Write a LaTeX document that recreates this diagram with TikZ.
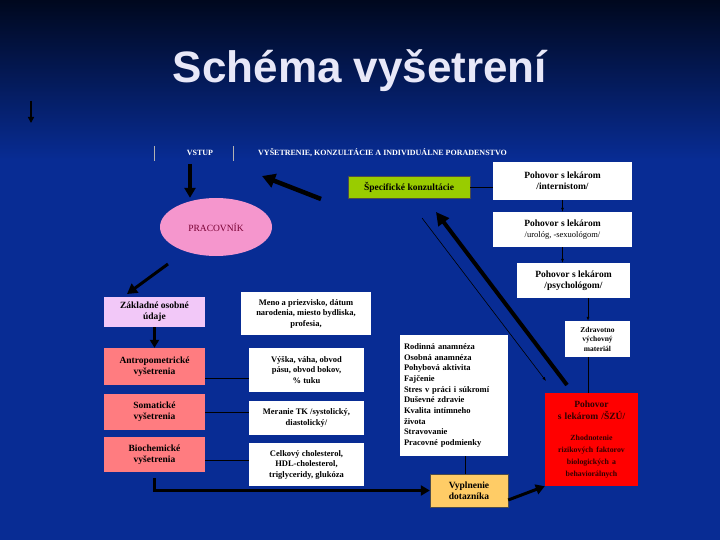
\documentclass[tikz,border=0pt]{standalone}
\usepackage{fontspec}
\setmainfont{Liberation Serif}
\newfontfamily\titlefont{Liberation Sans}
\usetikzlibrary{arrows.meta,shapes.geometric}
\definecolor{bgtop}{RGB}{0,8,30}
\definecolor{bgblue}{RGB}{8,44,148}
\definecolor{titlecol}{RGB}{232,232,248}
\definecolor{specgreen}{RGB}{153,204,0}
\definecolor{ellpink}{RGB}{245,150,205}
\definecolor{lavender}{RGB}{242,200,248}
\definecolor{salmon}{RGB}{255,124,128}
\definecolor{orangey}{RGB}{255,204,102}
\definecolor{darkred}{RGB}{120,0,50}
\definecolor{redtext}{RGB}{50,0,0}
\tikzset{
  box/.style={inner sep=1pt, align=center, text=black, font=\fontsize{9.5}{11}\selectfont\bfseries},
  wbox/.style={box, fill=white},
  thinline/.style={draw=black, line width=0.6pt},
  thinarrow/.style={thinline, -{Latex[length=4pt,width=3pt]}},
  fatarrow/.style={draw=black, line width=3.5pt, -{Triangle[length=10pt,width=11pt]}},
  hdr/.style={text=white, font=\fontsize{8}{9}\selectfont\bfseries, inner sep=0pt}
}
\begin{document}
\begin{tikzpicture}[x=1pt,y=-1pt]
\useasboundingbox (0,0) rectangle (720,540);
% background
\fill[top color=bgtop, bottom color=bgblue] (0,0) rectangle (720,160);
\fill[bgblue] (0,159.5) rectangle (720,540);
% title
\node[anchor=base, text=titlecol, font=\titlefont\fontsize{44}{48}\selectfont\bfseries] (title) at (360,83) {Schéma vyšetrení};
% small left arrow
\coordinate (la1) at (31,101);
\coordinate (la2) at (31,123);
\draw[line width=1.6pt, -{Triangle[length=6pt,width=6pt]}] (la1) -- (la2);
% header
\node[hdr] (vstup) at (200,153) {VSTUP};
\node[hdr, anchor=west] (hdrtxt) at (258,153) {VYŠETRENIE, KONZULTÁCIE A INDIVIDUÁLNE PORADENSTVO};
\coordinate (b1t) at (154,146); \coordinate (b1b) at (154,161);
\coordinate (b2t) at (233,146); \coordinate (b2b) at (233,161);
\draw[gray!60, line width=0.6pt] (b1t) -- (b1b);
\draw[gray!60, line width=0.6pt] (b2t) -- (b2b);
% ellipse
\node[ellipse, fill=ellpink, minimum width=112pt, minimum height=58pt, inner sep=0pt,
      text=darkred, font=\fontsize{9.5}{11}\selectfont] (ell) at (216,227) {PRACOVNÍK};
\coordinate (va) at (190,164);
\draw[fatarrow] (va) -- (va |- ell.north);
% right column
\node[wbox, minimum width=139pt, minimum height=38pt] (int) at (562.5,181) {Pohovor s lekárom\\ /internistom/};
\node[wbox, minimum width=139pt, minimum height=35pt] (uro) at (562.5,229.5) {Pohovor s lekárom\\ \fontsize{8.5}{10}\selectfont\mdseries /urológ, -sexuológom/};
\node[wbox, minimum width=113pt, minimum height=35pt] (psy) at (573.5,280.5) {Pohovor s lekárom\\ /psychológom/};
\node[wbox, minimum width=65pt, minimum height=36pt, font=\fontsize{7.5}{9.5}\selectfont\bfseries] (zdr) at (597.5,339) {Zdravotno\\ výchovný\\ materiál};
\node[box, fill=specgreen, draw=black!70, line width=0.4pt, minimum width=122pt, minimum height=22pt] (spec) at (409,187) {Špecifické konzultácie};
\node[box, fill=red, minimum width=93pt, minimum height=93pt, text width=88pt, text=redtext] (red) at (591.5,439.5)
  {{\fontsize{9.5}{12}\selectfont Pohovor\\ s lekárom /ŠZÚ/\par}\vspace{9pt}{\fontsize{7.8}{12}\selectfont\bfseries Zhodnotenie\\ rizikových faktorov\\ biologických a\\ behaviorálnych\par}};
\draw[thinline] (spec.east) -- (spec.east -| int.west);
\draw[thinarrow] (int.south) -- (uro.north);
\draw[thinarrow] (uro.south) -- (uro.south |- psy.north);
\draw[thinarrow] (psy.south -| 588,0) -- (zdr.north -| 588,0);
\draw[thinline] (zdr.south -| 588,0) -- (red.north -| 588,0);
% left column
\node[box, fill=lavender, minimum width=101pt, minimum height=30pt] (zak) at (154.5,312) {Základné osobné\\ údaje};
\node[box, fill=salmon, minimum width=101pt, minimum height=37pt] (ant) at (154.5,366.5) {Antropometrické\\ vyšetrenia};
\node[box, fill=salmon, minimum width=101pt, minimum height=36pt] (som) at (154.5,412) {Somatické\\ vyšetrenia};
\node[box, fill=salmon, minimum width=101pt, minimum height=35pt] (bio) at (154.5,454.5) {Biochemické\\ vyšetrenia};
\draw[fatarrow, line width=3pt, -{Triangle[length=8pt,width=9pt]}] (zak.south) -- (ant.north);
% middle white boxes
\tikzset{mbox/.style={wbox, font=\fontsize{8.5}{10.5}\selectfont\bfseries}}
\node[mbox, minimum width=130pt, minimum height=43pt] (meno) at (306,313.5) {Meno a priezvisko, dátum\\ narodenia, miesto bydliska,\\ profesia,};
\node[mbox, minimum width=115pt, minimum height=44pt] (vys) at (306.5,370) {Výška, váha, obvod\\ pásu, obvod bokov,\\ \% tuku};
\node[mbox, minimum width=115pt, minimum height=34pt] (mer) at (306.5,418) {Meranie TK /systolický,\\ diastolický/};
\node[mbox, minimum width=115pt, minimum height=43pt] (cel) at (306.5,464.5) {Celkový cholesterol,\\ HDL-cholesterol,\\ triglyceridy, glukóza};
\draw[thinline] (ant.east |- 0,378) -- (vys.west |- 0,378);
\draw[thinline] (som.east) -- (som.east -| mer.west);
\draw[thinline] (bio.east |- 0,460) -- (cel.west |- 0,460);
% list box
\node[wbox, minimum width=108pt, minimum height=121pt, text width=100pt, align=left,
      font=\fontsize{8.5}{10.7}\selectfont\bfseries] (lst) at (454,395.5)
  {Rodinná anamnéza\\ Osobná anamnéza\\ Pohybová aktivita\\ Fajčenie\\ Stres v práci i súkromí\\ Duševné zdravie\\ Kvalita intímneho\\ života\\ Stravovanie\\ Pracovné podmienky};
\node[box, fill=orangey, draw=black!70, line width=0.4pt, minimum width=78pt, minimum height=33pt] (vyp) at (469,490.5) {Vyplnenie\\ dotazníka};
\draw[thinline] (lst.south -| 465,0) -- (vyp.north -| 465,0);
% thick connectors
\coordinate (e1) at (168,264);
\coordinate (e2) at (127,294);
\draw[fatarrow, line width=3pt] (e1) -- (e2);
\coordinate (s1) at (321,199);
\coordinate (s2) at (262,176);
\draw[fatarrow, line width=4.5pt, -{Triangle[length=13pt,width=14pt]}] (s1) -- (s2);
\coordinate (d1) at (567,385);
\coordinate (d2) at (436,212);
\draw[fatarrow, line width=4pt, -{Triangle[length=13pt,width=13pt]}] (d1) -- (d2);
\coordinate (t1) at (422,218);
\coordinate (t2) at (546,381);
\draw[thinarrow] (t1) -- (t2);
\draw[fatarrow, line width=3pt, -{Triangle[length=9pt,width=10pt]}] ([yshift=-6pt]bio.south) |- (vyp.west);
\draw[fatarrow, line width=3pt, -{Triangle[length=9pt,width=10pt]}] (vyp.east |- 0,500) -- (red.south west);
\end{tikzpicture}
\end{document}
